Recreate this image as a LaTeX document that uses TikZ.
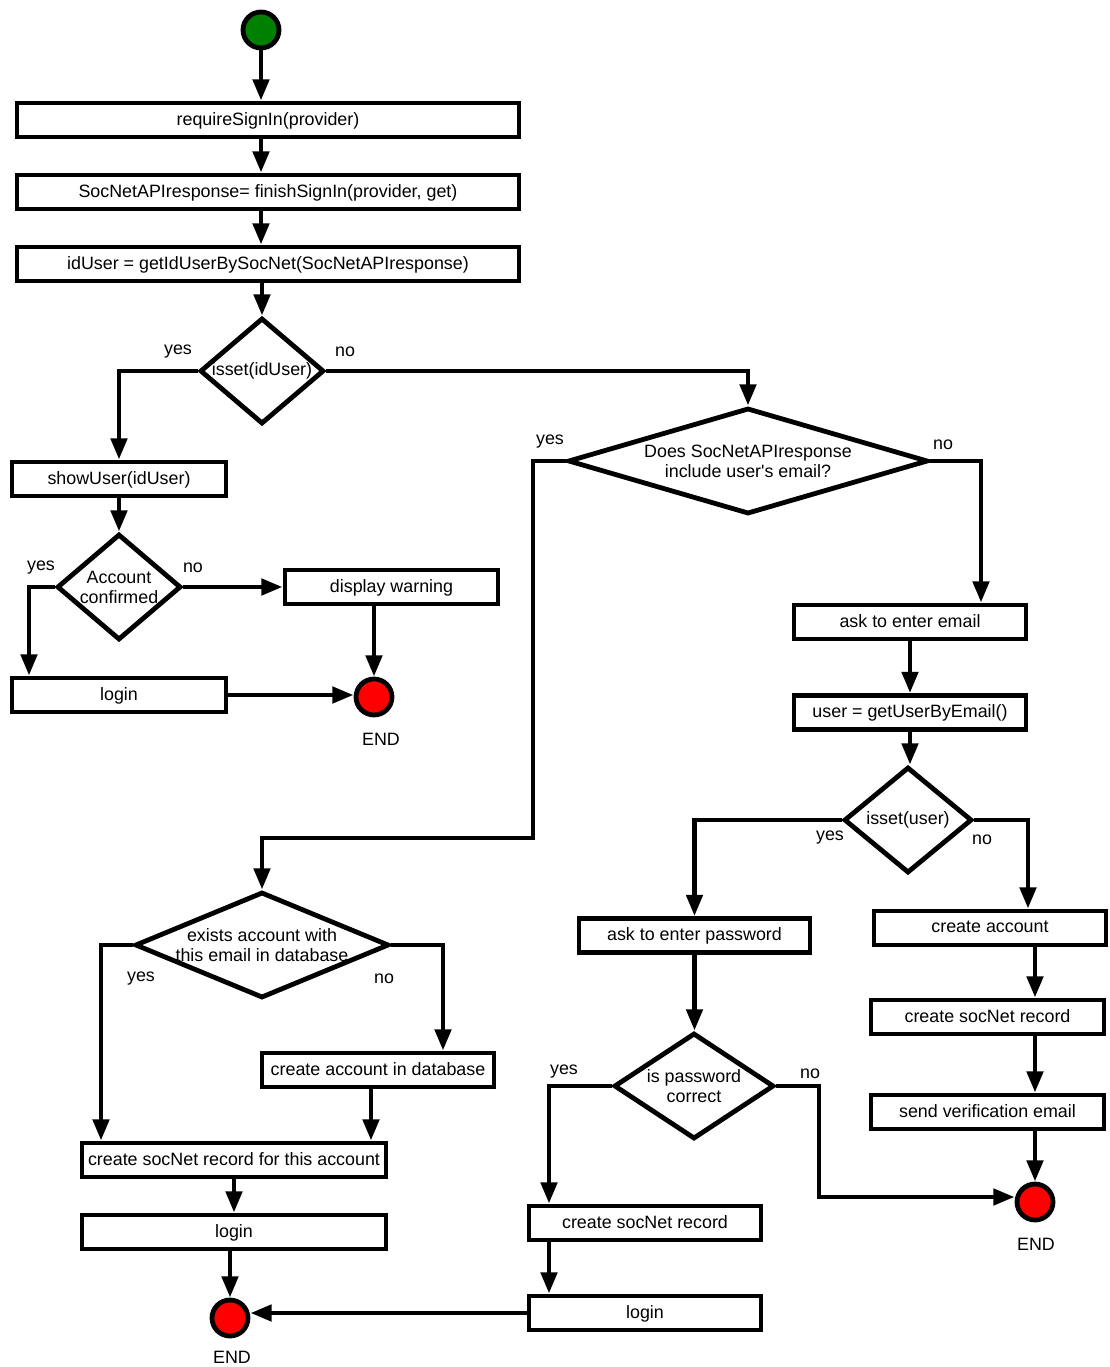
\documentclass[tikz,border=0pt]{standalone}
\usepackage{fontspec}
\setmainfont{Liberation Sans}[Ligatures=TeXOff]
\usetikzlibrary{arrows.meta,shapes.geometric,calc}
\definecolor{startgreen}{RGB}{0,128,0}
\definecolor{endred}{RGB}{255,0,0}
\begin{document}
\begin{tikzpicture}[x=0.75pt,y=-0.75pt,
  txt/.style={font=\fontsize{13.4}{15}\selectfont,inner sep=0pt,align=center},
  box/.style={draw,line width=3.6pt,rectangle,inner sep=0pt,minimum height=25.5pt,txt,text depth=0.3ex},
  dia/.style={draw,line width=3.6pt,diamond,inner sep=0pt,minimum height=79.5pt},
  term/.style={draw,line width=3.6pt,circle,inner sep=0pt,minimum size=27pt},
  arr/.style={line width=3.6pt,-{Triangle[length=16pt,width=12pt]}}
]
\useasboundingbox (0,0) rectangle (1110,1367);

% start and top chain
\node[term,fill=startgreen] (start) at (261,30) {};
\node[box,minimum width=376.5pt] (b1) at (268,120) {requireSignIn(provider)};
\node[box,minimum width=376.5pt] (b2) at (268,192) {SocNetAPIresponse= finishSignIn(provider, get)};
\node[box,minimum width=376.5pt] (b3) at (268,264) {idUser = getIdUserBySocNet(SocNetAPIresponse)};

% diamonds
\node[dia,minimum width=93pt] (d1) at (262,371) {};
\node[txt] (d1t) at (d1) {isset(idUser)};
\node[dia,minimum width=270pt] (d2) at (748,461) {};
\node[txt] (d2t) at (748,461) {Does SocNetAPIresponse\\include user's email?};
\node[dia,minimum width=93pt] (d3) at (119,587) {};
\node[txt] (d3t) at (119,587) {Account\\confirmed};
\node[dia,minimum width=96pt] (d4) at (908,820) {};
\node[txt] (d4t) at (908,820) {isset(user)};
\node[dia,minimum width=120pt] (d5) at (694,1086) {};
\node[txt] (d5t) at (694,1086) {is password\\correct};
\node[dia,minimum width=190.5pt] (d6) at (262,945) {};
\node[txt] (d6t) at (262,945) {exists account with\\this email in database};

% boxes
\node[box,minimum width=160.5pt] (show) at (119,479) {showUser(idUser)};
\node[box,minimum width=159.75pt] (warn) at (391.5,587) {display warning};
\node[box,minimum width=160.5pt] (login1) at (119,695) {login};
\node[box,minimum width=174pt] (email) at (910,622) {ask to enter email};
\node[box,minimum width=174pt] (getuser) at (910,712.5) {user = getUserByEmail()};
\node[box,minimum width=173.25pt] (pwd) at (694.5,935.5) {ask to enter password};
\node[box,minimum width=174pt] (createacc) at (990,928) {create account};
\node[box,minimum width=174.75pt] (rec2) at (987.5,1017) {create socNet record};
\node[box,minimum width=174.75pt] (verif) at (987.5,1112) {send verification email};
\node[box,minimum width=174pt] (accdb) at (378,1070) {create account in database};
\node[box,minimum width=228pt] (recacc) at (234,1160) {create socNet record for this account};
\node[box,minimum width=228pt] (login2) at (234,1232) {login};
\node[box,minimum width=174pt] (rec3) at (645,1223) {create socNet record};
\node[box,minimum width=174pt] (login3) at (645,1313) {login};

% end circles
\node[term,fill=endred] (end1) at (374,697) {};
\node[term,fill=endred] (end3) at (1035,1202) {};
\node[term,fill=endred] (end4) at (230,1318) {};
\node[txt] (end1l) at (381,739) {END};
\node[txt] (end3l) at (1036,1244) {END};
\node[txt] (end4l) at (232,1357) {END};

% yes/no labels
\node[txt] (l1y) at (178,352) {yes};
\node[txt] (l1n) at (345,352) {no};
\node[txt] (l2y) at (550,442) {yes};
\node[txt] (l2n) at (943,445) {no};
\node[txt] (l3y) at (41,568) {yes};
\node[txt] (l3n) at (193,568) {no};
\node[txt] (l4y) at (830,838) {yes};
\node[txt] (l4n) at (982,840) {no};
\node[txt] (l5y) at (564,1072) {yes};
\node[txt] (l5n) at (810,1074) {no};
\node[txt] (l6y) at (141,979) {yes};
\node[txt] (l6n) at (384,979) {no};

% helper coordinates
\coordinate (c1) at (533,838);
\coordinate (c2) at (819,1197);

% connectors
\draw[arr] (start) -- (start |- b1.north);
\draw[arr] (b1.south -| start) -- (b2.north -| start);
\draw[arr] (b2.south -| start) -- (b3.north -| start);
\draw[arr] (b3.south -| d1) -- (d1.north);
\draw[arr] (d1.west) -| (show.north);
\draw[arr] (d1.east) -| (d2.north);
\draw[arr] (d2.west) -| (c1) -| (d6.north);
\draw[arr] (d2.east) -| ($(email.north)+(71,0)$);
\draw[arr] (show.south) -- (d3.north);
\draw[arr] (d3.west) -| ($(login1.north)+(-90,0)$);
\draw[arr] (d3.east) -- (warn.west);
\draw[arr] (warn.south -| end1) -- (end1.north);
\draw[arr] (login1.east) -- (login1.east -| end1.west);
\draw[arr] (email.south) -- (getuser.north);
\draw[arr] (getuser.south) -- (getuser.south |- d4.north);
\draw[arr] (d4.west) -| (pwd.north);
\draw[arr] (d4.east) -| ($(createacc.north)+(38,0)$);
\draw[arr] (pwd.south) -- (pwd.south |- d5.north);
\draw[arr] (d5.west) -| ($(rec3.north)+(-96,0)$);
\draw[arr] (d5.east) -| (c2) -- (c2 -| end3.west);
\draw[arr] (createacc.south -| end3) -- (rec2.north -| end3);
\draw[arr] (rec2.south -| end3) -- (verif.north -| end3);
\draw[arr] (verif.south -| end3) -- (end3.north);
\draw[arr] ($(rec3.south)+(-96,0)$) -- ($(login3.north)+(-96,0)$);
\draw[arr] (login3.west) -- (login3.west -| end4.east);
\draw[arr] (d6.west) -| ($(recacc.north)+(-133,0)$);
\draw[arr] (d6.east) -| ($(accdb.north)+(65,0)$);
\draw[arr] ($(accdb.south)+(-7,0)$) -- ($(accdb.south |- recacc.north)+(-7,0)$);
\draw[arr] (recacc.south) -- (login2.north);
\draw[arr] (login2.south -| end4) -- (end4.north);
\end{tikzpicture}
\end{document}
